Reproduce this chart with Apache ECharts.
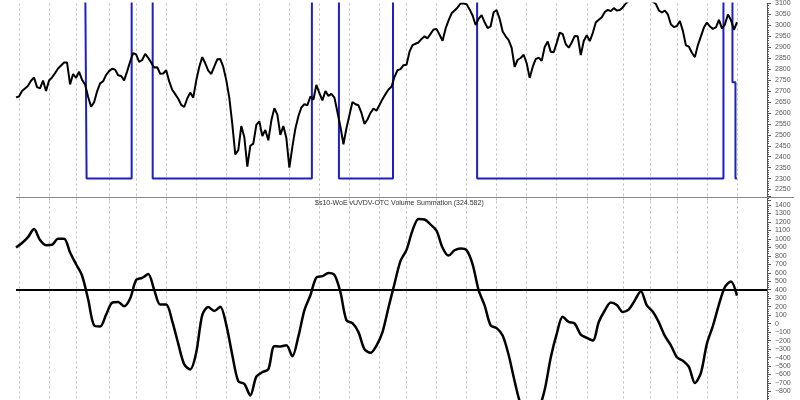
<!DOCTYPE html>
<html><head><meta charset="utf-8">
<script src="https://cdn.jsdelivr.net/npm/echarts@6/dist/echarts.min.js"></script>
<style>html,body{margin:0;padding:0;background:#fff}#c{width:800px;height:400px}</style>
</head><body><div id="c"></div>
<script>
// Price (top panel), one value per sample step
const priceValues = [
 2671,2675,2700,2712,2724,2747,2762,2718,2712,2748,
 2700,2748,2762,2782,2803,2817,2830,2830,2730,2778,
 2760,2788,2751,2730,2674,2628,2649,2699,2735,2745,
 2774,2791,2802,2798,2772,2769,2749,2790,2835,2873,
 2867,2833,2842,2870,2852,2830,2808,2809,2779,2780,
 2795,2744,2706,2686,2665,2637,2627,2666,2693,2670,
 2748,2810,2855,2827,2793,2778,2812,2845,2846,2810,
 2750,2670,2550,2410,2430,2540,2490,2355,2450,2460,
 2545,2562,2495,2522,2475,2565,2622,2592,2500,2540,
 2485,2350,2445,2528,2585,2625,2640,2635,2675,2660,
 2728,2690,2657,2700,2678,2687,2670,2604,2537,2457,
 2530,2590,2650,2640,2635,2600,2550,2570,2600,2620,
 2610,2636,2663,2686,2707,2720,2765,2795,2800,2818,
 2820,2880,2910,2916,2922,2938,2950,2941,2961,2981,
 2983,2957,2930,2985,3023,3055,3068,3082,3100,3100,
 3097,3073,3045,3002,3030,3047,3014,2988,2996,3060,
 3070,3030,2972,2950,2933,2897,2810,2843,2851,2866,
 2827,2760,2810,2846,2853,2838,2901,2926,2880,2877,
 2920,2967,2960,2914,2898,2922,2952,2950,2864,2929,
 2955,2928,2965,3013,3026,3037,3061,3071,3065,3079,
 3068,3070,3082,3100,3112,3120,3128,3118,3125,3135,
 3122,3115,3108,3098,3068,3059,3068,3050,3005,2992,
 2997,3020,2975,2909,2903,2875,2855,2910,2950,2990,
 3013,2995,2984,2991,3025,2986,3005,3050,3025,2980,
 3015
];
// Signal (blue step line): [level, number of samples]
const signalRuns = [
 [3300,24],[2300,15],[3300,7],[2300,53],[3300,9],[2300,18],
 [3300,28],[2300,82],[3300,3],[2740,1],[2300,1]
];
// Oscillator (bottom panel), coarser sample step
const oscValues = [
 897,950,1020,1115,985,925,930,1001,1001,839,
 700,565,290,-20,-33,106,245,255,205,296,
 515,540,585,400,225,225,30,-235,-480,-540,
 -340,100,195,150,200,-15,-370,-680,-710,-846,
 -625,-573,-538,-265,-270,-255,-385,-150,157,335,
 545,560,598,575,370,40,5,-100,-300,-343,
 -258,-100,190,470,740,870,1100,1235,1228,1168,
 1095,895,802,865,885,865,700,395,215,-20,
 -53,-140,-370,-680,-950,-1050,-1080,-1000,-780,-401,
 -120,80,20,0,-130,-167,-200,20,155,250,
 220,137,168,275,381,215,140,15,-145,-255,
 -395,-437,-510,-700,-580,-235,-25,225,432,497,
 330
];
const thresholdLevel = 400;
const monthLineIdx = [1,11,20,31,40,50,60,70,81,91,101,111,121,130,140,150,160,170,180,190,202,211,220,230,240];
const priceAxis = {min:2200, max:3100, step:50};
const oscAxis = {min:-900, max:1500, step:100};
const oscTitle = '$s10-WoE vUVDV-OTC Volume Summation (324.582)';
const priceCategoryCount = 251;
const oscCategoryCount = 126;

const signalValues = [];
signalRuns.forEach(([lvl, n]) => { for (let k = 0; k < n; k++) signalValues.push(lvl); });
const priceCats = Array.from({length: priceCategoryCount}, (_, i) => String(i));
const oscCats = Array.from({length: oscCategoryCount}, (_, i) => String(i));
const monthSet = new Set(monthLineIdx);

const font = 'Liberation Sans, Arial, sans-serif';
const axisColor = '#555';
const dashLine = {show:true, interval:(idx) => monthSet.has(idx), lineStyle:{color:'#bdbdbd', type:[2,3], width:1}};
const hiddenX = {axisLine:{show:false}, axisTick:{show:false}, axisLabel:{show:false}};
const fmt = v => String(v).replace('-', '\u2212');

const chart = echarts.init(document.getElementById('c'), null, {renderer:'canvas'});
chart.setOption({
  animation:false,
  backgroundColor:'#fff',
  title:{text:oscTitle, left:315, top:199.5, padding:0,
    textStyle:{fontSize:7, fontWeight:'normal', color:'#333', fontFamily:font}},
  grid:[
    {left:16, right:33, top:-1.2, height:201.7},
    {left:16, right:33, top:196.4, height:206.5}
  ],
  xAxis:[
    Object.assign({gridIndex:0, type:'category', boundaryGap:false, data:priceCats, splitLine:dashLine}, hiddenX),
    Object.assign({gridIndex:1, type:'category', boundaryGap:false, data:priceCats, splitLine:dashLine}, hiddenX),
    Object.assign({gridIndex:1, type:'category', boundaryGap:false, data:oscCats, splitLine:{show:false}}, hiddenX)
  ],
  yAxis:[
    {gridIndex:0, type:'value', position:'right', min:priceAxis.min, max:priceAxis.max, interval:priceAxis.step,
     axisLine:{show:true, lineStyle:{color:axisColor}},
     axisTick:{show:true, length:4, lineStyle:{color:axisColor}},
     minorTick:{show:true, splitNumber:5, length:2, lineStyle:{color:axisColor}},
     splitLine:{show:false},
     axisLabel:{fontSize:7, color:'#555', margin:8, fontFamily:font, showMinLabel:false, formatter:fmt}},
    {gridIndex:1, type:'value', position:'right', min:oscAxis.min, max:oscAxis.max, interval:oscAxis.step,
     axisLine:{show:true, lineStyle:{color:axisColor}},
     axisTick:{show:true, length:4, lineStyle:{color:axisColor}},
     minorTick:{show:true, splitNumber:4, length:2, lineStyle:{color:axisColor}},
     splitLine:{show:false},
     axisLabel:{fontSize:7, color:'#555', margin:8, fontFamily:font, showMaxLabel:false, showMinLabel:false, formatter:fmt}}
  ],
  graphic:[{type:'line', shape:{x1:16, y1:197.5, x2:794, y2:197.5}, style:{stroke:'#888', lineWidth:1}, z:10}],
  series:[
    {name:'Signal', type:'line', xAxisIndex:0, yAxisIndex:0, data:signalValues, step:'middle',
     showSymbol:false, lineStyle:{color:'#1f1fc2', width:2}, z:2},
    {name:'Price', type:'line', xAxisIndex:0, yAxisIndex:0, data:priceValues,
     showSymbol:false, lineStyle:{color:'#000', width:2}, z:3},
    {name:'Oscillator', type:'line', xAxisIndex:2, yAxisIndex:1, data:oscValues, smooth:0.3,
     showSymbol:false, lineStyle:{color:'#000', width:2.5}, z:3,
     markLine:{silent:true, symbol:'none', label:{show:false},
       lineStyle:{color:'#000', width:2, type:'solid'}, data:[{yAxis:thresholdLevel}]}}
  ]
});
</script></body></html>
